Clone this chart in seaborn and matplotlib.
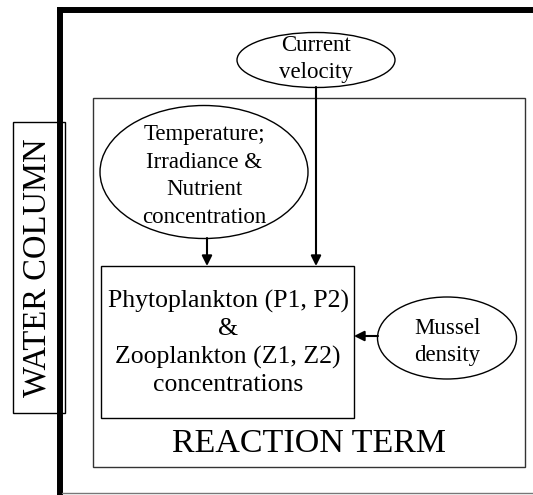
import matplotlib.pyplot as plt
import seaborn as sns
from matplotlib.patches import Ellipse, Rectangle

# node texts of the diagram
outer_label = "WATER COLUMN"
inner_label = "REACTION TERM"
driver_labels = ["Current\nvelocity",
                 "Temperature;\nIrradiance &\nNutrient\nconcentration",
                 "Mussel\ndensity"]
state_lines = ["Phytoplankton (P1, P2)", "&", "Zooplankton (Z1, Z2)", "concentrations"]

sns.set_theme(style="white")
plt.rcParams['font.family'] = ['Liberation Serif', 'DejaVu Serif']

fig = plt.figure(figsize=(5.33, 4.95), dpi=100)
ax = fig.add_axes([0, 0, 1, 1])
ax.set_xlim(0, 533)
ax.set_ylim(495, 0)
ax.axis("off")

# water column frame (thick top and left, thin bottom)
ax.plot([57, 533], [10, 10], color="black", lw=4.3, solid_capstyle="butt")
ax.plot([60, 60], [7, 495], color="black", lw=4.3, solid_capstyle="butt")
ax.plot([62, 533], [493, 493], color="#777777", lw=1)

# water column label box
ax.add_patch(Rectangle((13, 122), 52, 291, fill=False, ec="black", lw=1))
ax.text(37, 268, outer_label, rotation=90, ha="center", va="center", fontsize=23.5,
        color="black")

# reaction term box
ax.add_patch(Rectangle((93, 98), 432, 369, fill=False, ec="#333333", lw=1))
ax.text(309, 444, inner_label, ha="center", va="center", fontsize=24.5, color="black")

# state variable box
ax.add_patch(Rectangle((101, 266), 253, 152, fill=False, ec="black", lw=1))
for i, line in enumerate(state_lines):
    ax.text(228, 301 + i * 28, line, ha="center", va="center", fontsize=18.5,
            color="black")

# drivers
ellipses = [(316, 60, 158, 55), (204, 172, 208, 133), (447, 338, 139, 82)]
text_y = [59, 176, 342]
for (cx, cy, w, h), ty, lab in zip(ellipses, text_y, driver_labels):
    ax.add_patch(Ellipse((cx, cy), w, h, fill=True, fc="white", ec="black", lw=1))
    ax.text(cx, ty, lab, ha="center", va="center", fontsize=16.5, linespacing=1.4,
            color="black")

arrow = dict(arrowstyle="-|>,head_length=0.5,head_width=0.25", color="black", lw=1.5,
             shrinkA=0, shrinkB=0)
ax.annotate("", xy=(316, 266), xytext=(316, 87), arrowprops=arrow)
ax.annotate("", xy=(207, 266), xytext=(207, 238), arrowprops=arrow)
ax.annotate("", xy=(354, 336), xytext=(378, 336), arrowprops=arrow)

fig.savefig("out.png", dpi=100)
